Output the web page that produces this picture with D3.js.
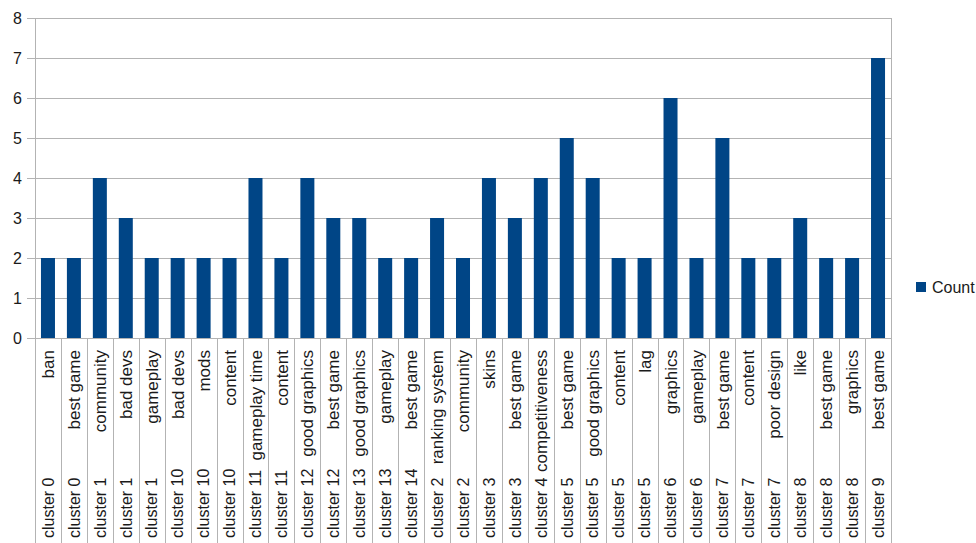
<!DOCTYPE html>
<html>
<head>
<meta charset="utf-8">
<script src="https://cdn.jsdelivr.net/npm/d3@7"></script>
<style>
  html, body { margin: 0; padding: 0; background: #ffffff; }
  svg { display: block; font-family: "Liberation Sans", Arial, sans-serif; }
</style>
</head>
<body>
<svg id="chart" width="976" height="543"></svg>
<script>
const clusters = ["cluster 0","cluster 0","cluster 1","cluster 1","cluster 1","cluster 10","cluster 10","cluster 10","cluster 11","cluster 11","cluster 12","cluster 12","cluster 13","cluster 13","cluster 14","cluster 2","cluster 2","cluster 3","cluster 3","cluster 4","cluster 5","cluster 5","cluster 5","cluster 5","cluster 6","cluster 6","cluster 7","cluster 7","cluster 7","cluster 8","cluster 8","cluster 8","cluster 9"];
const topics = ["ban","best game","community","bad devs","gameplay","bad devs","mods","content","gameplay time","content","good graphics","best game","good graphics","gameplay","best game","ranking system","community","skins","best game","competitiveness","best game","good graphics","content","lag","graphics","gameplay","best game","content","poor design","like","best game","graphics","best game"];
const counts = [2,2,4,3,2,2,2,2,4,2,4,3,3,2,2,3,2,4,3,4,5,4,2,2,6,2,5,2,2,3,2,2,7];
const yTicks = [0,1,2,3,4,5,6,7,8];
const seriesName = "Count";

(function () {
const svg = d3.select("#chart");
const pL = 35, pR = 891, pT = 18, pB = 338;
const barColor = "#004586", gridColor = "#b3b3b3", textColor = "#1a1a1a";

const idx = d3.range(counts.length);
const x = d3.scaleBand().domain(idx).range([pL, pR]).paddingInner(0.46).paddingOuter(0.23);
const y = d3.scaleLinear().domain([0, 8]).range([pB, pT]);
const step = x.step();

// gridlines + ticks
svg.append("g").selectAll("line").data(yTicks).join("line")
  .attr("x1", pL - 8).attr("x2", pR)
  .attr("y1", d => y(d)).attr("y2", d => y(d))
  .attr("stroke", gridColor).attr("stroke-width", 1).attr("shape-rendering", "crispEdges");

// y labels
svg.append("g").selectAll("text").data(yTicks).join("text")
  .attr("x", 22).attr("y", d => y(d)).attr("dy", "0.36em")
  .attr("text-anchor", "end").attr("font-size", 16).attr("fill", textColor)
  .text(d => d);

// vertical frame lines
svg.append("line").attr("x1", pL).attr("x2", pL).attr("y1", pT).attr("y2", 543)
  .attr("stroke", gridColor).attr("shape-rendering", "crispEdges");
svg.append("line").attr("x1", pR).attr("x2", pR).attr("y1", pT).attr("y2", pB)
  .attr("stroke", gridColor).attr("shape-rendering", "crispEdges");

// category separators
svg.append("g").selectAll("line").data(d3.range(counts.length + 1)).join("line")
  .attr("x1", i => Math.round(pL + i * step)).attr("x2", i => Math.round(pL + i * step))
  .attr("y1", pB).attr("y2", 543)
  .attr("stroke", gridColor).attr("shape-rendering", "crispEdges");

// bars
svg.append("g").selectAll("rect").data(idx).join("rect")
  .attr("x", i => x(i)).attr("width", x.bandwidth())
  .attr("y", i => y(counts[i])).attr("height", i => y(0) - y(counts[i]))
  .attr("fill", barColor);

// inner labels (topics)
svg.append("g").selectAll("text").data(idx).join("text")
  .attr("transform", i => `translate(${x(i) + x.bandwidth() / 2},350) rotate(-90)`)
  .attr("dy", "0.36em").attr("text-anchor", "end")
  .attr("font-size", 17).attr("fill", textColor)
  .text(i => topics[i]);

// outer labels (clusters)
svg.append("g").selectAll("text").data(idx).join("text")
  .attr("transform", i => `translate(${x(i) + x.bandwidth() / 2},538) rotate(-90)`)
  .attr("dy", "0.36em").attr("text-anchor", "start")
  .attr("font-size", 16).attr("fill", textColor)
  .text(i => clusters[i]);

// legend
const lg = svg.append("g");
lg.append("rect").attr("x", 916).attr("y", 282).attr("width", 10).attr("height", 10).attr("fill", barColor);
lg.append("text").attr("x", 932).attr("y", 287).attr("dy", "0.36em")
  .attr("font-size", 16).attr("fill", textColor).text(seriesName);
})();
</script>
</body>
</html>
